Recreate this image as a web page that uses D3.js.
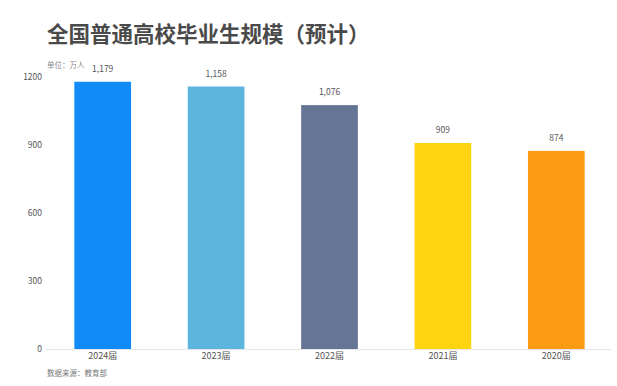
<!DOCTYPE html>
<html>
<head>
<meta charset="utf-8">
<script src="https://cdn.jsdelivr.net/npm/d3@7"></script>
<style>
  body { margin: 0; background: #fff; }
  svg text { font-family: "Noto Sans CJK SC", "Noto Sans", sans-serif; }
</style>
</head>
<body>
<svg id="chart" width="617" height="386"></svg>
<script>
// 数据
var categories = ["2024届", "2023届", "2022届", "2021届", "2020届"];
var values = [1179, 1158, 1076, 909, 874];
var colors = ["#118bf7", "#5bb5dc", "#667596", "#fdd410", "#fb9a13"];
var yTicks = [0, 300, 600, 900, 1200];

var svg = d3.select("#chart"),
    margin = {top: 77, right: 4, bottom: 37, left: 46},
    width = 617, height = 386;

var x = d3.scaleBand()
    .domain(categories)
    .range([margin.left, width - margin.right])
    .paddingInner(0.5)
    .paddingOuter(0.25);

var y = d3.scaleLinear()
    .domain([0, 1200])
    .range([height - margin.bottom, margin.top]);

var fmt = d3.format(",");

// 标题
svg.append("text")
    .attr("x", 47).attr("y", 42)
    .attr("font-size", 21.5)
    .attr("font-weight", "bold")
    .attr("fill", "#4a4a4a")
    .text("全国普通高校毕业生规模（预计）");

svg.append("text")
    .attr("x", 47).attr("y", 68)
    .attr("font-size", 7.5)
    .attr("fill", "#888")
    .text("单位：万人");

// y 轴
var yAxis = d3.axisLeft(y).tickValues(yTicks).tickFormat(d3.format("d")).tickSize(0).tickPadding(4);
svg.append("g")
    .attr("transform", "translate(" + (margin.left) + ",0)")
    .call(yAxis)
    .call(g => g.select(".domain").remove())
    .call(g => g.selectAll("text").attr("font-size", 8.5).attr("fill", "#555"));

// x 轴
var xAxis = d3.axisBottom(x).tickSize(0).tickPadding(4);
svg.append("g")
    .attr("transform", "translate(0," + y(0) + ")")
    .call(xAxis)
    .call(g => g.select(".domain").attr("stroke", "#e6e6e6").attr("d", "M" + margin.left + ",0.5H" + (width - 6)))
    .call(g => g.selectAll("text").attr("font-size", 9).attr("fill", "#555"));

// 柱子
svg.selectAll(".bar")
    .data(values)
    .enter().append("rect")
    .attr("class", "bar")
    .attr("x", (d, i) => x(categories[i]))
    .attr("width", x.bandwidth())
    .attr("y", d => y(d))
    .attr("height", d => y(0) - y(d))
    .attr("fill", (d, i) => colors[i]);

svg.selectAll(".val")
    .data(values)
    .enter().append("text")
    .attr("class", "val")
    .attr("x", (d, i) => x(categories[i]) + x.bandwidth() / 2)
    .attr("y", d => y(d) - 10)
    .attr("text-anchor", "middle")
    .attr("font-size", 8.5)
    .attr("fill", "#555")
    .text(d => fmt(d));

// 数据来源
svg.append("text")
    .attr("x", 47).attr("y", 376)
    .attr("font-size", 7.5)
    .attr("fill", "#777")
    .text("数据来源：教育部");
</script>
</body>
</html>
